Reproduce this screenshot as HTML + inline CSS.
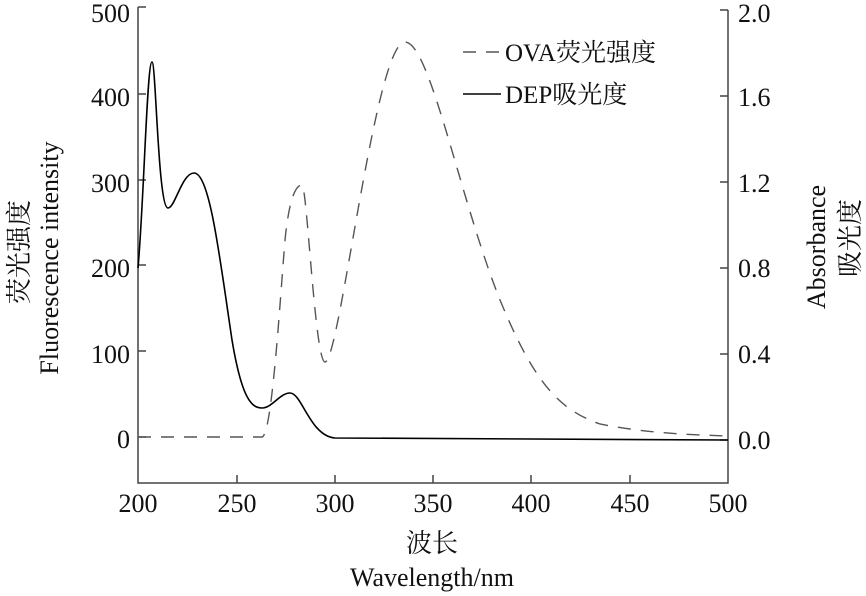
<!DOCTYPE html><html><head><meta charset="utf-8"><style>body{margin:0;background:#fff}svg{display:block}</style></head><body>
<svg width="866" height="596" viewBox="0 0 866 596" font-family="'Liberation Serif','Times New Roman','Noto Serif CJK SC',serif" fill="#111">
<g stroke="#444" stroke-width="1.5" fill="none">
<path d="M138,7 V483 H728 V10"/>
<path d="M138,7h8M138,94h8M138,180h8M138,265h8M138,351h8M138,437h8"/>
<path d="M237,483v-8M335,483v-8M433,483v-8M531,483v-8M630,483v-8"/>
<path d="M728,10h-8M728,96h-8M728,182h-8M728,268h-8M728,354h-8M728,440h-8"/>
</g>
<g font-size="26" text-anchor="end">
<text x="130" y="22">500</text><text x="130" y="106">400</text><text x="130" y="192">300</text><text x="130" y="277">200</text><text x="130" y="363">100</text><text x="130" y="448">0</text>
</g>
<g font-size="26" text-anchor="start">
<text x="738" y="22">2.0</text><text x="738" y="106">1.6</text><text x="738" y="192">1.2</text><text x="738" y="277">0.8</text><text x="738" y="363">0.4</text><text x="738" y="449">0.0</text>
</g>
<g font-size="26" text-anchor="middle">
<text x="138" y="512">200</text><text x="237" y="512">250</text><text x="335" y="512">300</text><text x="433" y="512">350</text><text x="531" y="512">400</text><text x="630" y="512">450</text><text x="728" y="512">500</text>
<text x="432" y="552">波长</text><text x="432" y="586">Wavelength/nm</text>
</g>
<g font-size="26" text-anchor="middle">
<text transform="translate(28,252) rotate(-90)">荧光强度</text>
<text transform="translate(58,258) rotate(-90)">Fluorescence intensity</text>
<text transform="translate(825,247) rotate(-90)">Absorbance</text>
<text transform="translate(859,238) rotate(-90)">吸光度</text>
</g>
<path d="M138,268 C144,200 147,62 152,62 C156,62 158,208 168,208 C175,208 182,173 194,173 C210,173 220,260 232,340 C242,400 252,408 262,408 C272,408 280,393 290,393 C302,393 310,436 335,438 L728,440" fill="none" stroke="#000" stroke-width="1.6"/>
<path d="M138,437 L262,437 C272,436 280,300 285,240 C290,190 298,185 302,185 C307,185 315,362 325,362 C340,362 375,42 405,42 C430,42 460,200 500,300 C535,385 560,410 600,424 C650,434 700,435 728,436" fill="none" stroke="#555" stroke-width="1.4" stroke-dasharray="13,10"/>
<path d="M463,52h38" stroke="#555" stroke-width="1.4" stroke-dasharray="13,10"/>
<path d="M463,94h38" stroke="#000" stroke-width="1.6"/>
<g font-size="25"><text x="505" y="61">OVA荧光强度</text><text x="505" y="103">DEP吸光度</text></g>
</svg></body></html>
